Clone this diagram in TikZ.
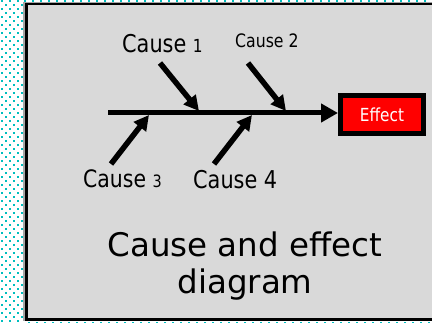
\documentclass[tikz,border=0pt]{standalone}
\usepackage{fontspec}
\setmainfont{DejaVu Sans}
\newfontfamily\labfont[FakeStretch=0.85]{DejaVu Sans}
\usetikzlibrary{arrows.meta}
\definecolor{dotteal}{RGB}{0,190,190}
\definecolor{panel}{RGB}{217,217,217}
\definecolor{effred}{RGB}{255,0,0}
\tikzset{
  lab/.style={inner sep=0pt, font=\labfont},
  bone/.style={line width=5.5pt, -{Triangle[length=15pt,width=15pt]}},
  spine/.style={line width=5pt, -{Triangle[length=17pt,width=18pt]}},
  effbox/.style={fill=effred, draw=black, line width=5pt, minimum width=83pt,
    minimum height=38pt, inner sep=0pt, text=white, font=\labfont\fontsize{18}{18}\selectfont},
  titletext/.style={inner sep=0pt, font=\fontsize{32.5}{32.5}\selectfont}
}
\begin{document}
\begin{tikzpicture}[x=1pt,y=-1pt]
\useasboundingbox (0,0) rectangle (432,323);
\fill[white] (0,0) rectangle (432,323);
% dotted background
\foreach \r in {0,...,80}{
  \pgfmathsetmacro\off{mod(\r,2)*4+1}
  \foreach \c in {0,...,2}{
    \fill[dotteal] ({\c*8+\off},{\r*4}) rectangle +(2,2);
  }
}
\foreach \c in {3,...,54}{
  \fill[dotteal] ({\c*8},0) rectangle +(2,1.6);
  \fill[dotteal] ({\c*8+4},321.6) rectangle +(2,1.6);
}
% panel with shadow
\fill[gray!70] (22.5,2) rectangle (445,321.5);
\filldraw[fill=panel, draw=black, line width=2.5pt] (26.25,4.25) rectangle (445,319.75);

% effect box
\node[effbox] (effect) at (382,114.5) {Effect};

% spine
\coordinate (spL) at (108,113);
\draw[spine] (spL) -- (spL -| effect.west);

% cause bones
\coordinate (c1t) at (160,63);  \coordinate (c1h) at (199,111);
\coordinate (c2t) at (248,63);  \coordinate (c2h) at (286,111);
\coordinate (c3t) at (111,164); \coordinate (c3h) at (149,115);
\coordinate (c4t) at (214,164); \coordinate (c4h) at (252,115);
\draw[bone] (c1t) -- (c1h);
\draw[bone] (c2t) -- (c2h);
\draw[bone] (c3t) -- (c3h);
\draw[bone] (c4t) -- (c4h);

% cause labels
\node[lab, anchor=base west] (cause1) at (122,53)
  {\fontsize{24.5}{24.5}\selectfont Cause {\fontsize{18}{18}\selectfont 1}};
\node[lab, anchor=base west] (cause2) at (235,48)
  {\fontsize{18.5}{18.5}\selectfont Cause 2};
\node[lab, anchor=base west] (cause3) at (83,188)
  {\fontsize{24}{24}\selectfont Cause {\fontsize{17}{17}\selectfont 3}};
\node[lab, anchor=base west] (cause4) at (193,189)
  {\fontsize{24.5}{24.5}\selectfont Cause 4};

% title
\node[titletext, anchor=base] (title1) at (245,257) {Cause and effect};
\node[titletext, anchor=base] (title2) at (245,294) {diagram};
\end{tikzpicture}
\end{document}
